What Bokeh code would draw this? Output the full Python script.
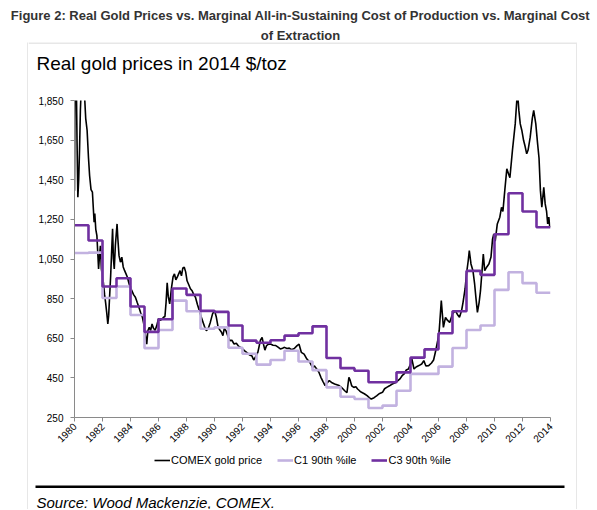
import math
from bokeh.plotting import figure
from bokeh.layouts import column, row
from bokeh.models import (Range1d, FixedTicker, NumeralTickFormatter, Label,
                          BoxAnnotation, Legend, LegendItem)
from bokeh.embed import file_html
from bokeh.resources import INLINE

TITLE_1 = "Figure 2: Real Gold Prices vs. Marginal All-in-Sustaining Cost of Production vs. Marginal Cost"
TITLE_2 = "of Extraction"
SUBTITLE = "Real gold prices in 2014 $/toz"
SOURCE = "Source: Wood Mackenzie, COMEX."
SERIES_NAMES = ["COMEX gold price", "C1 90th %ile", "C3 90th %ile"]

x_ticks = [1980, 1982, 1984, 1986, 1988, 1990, 1992, 1994, 1996, 1998, 2000,
           2002, 2004, 2006, 2008, 2010, 2012, 2014]
y_ticks = [250, 450, 650, 850, 1050, 1250, 1450, 1650, 1850]

# annual marginal costs (real 2014 $/toz)
cost_years = [1980, 1981, 1982, 1983, 1984, 1985, 1986, 1987, 1988, 1989,
              1990, 1991, 1992, 1993, 1994, 1995, 1996, 1997, 1998, 1999,
              2000, 2001, 2002, 2003, 2004, 2005, 2006, 2007, 2008, 2009,
              2010, 2011, 2012, 2013]
c1_values = [1080, 1082, 853, 911, 767, 600, 692, 840, 786, 698,
             705, 602, 572, 517, 540, 587, 533, 489, 402, 355,
             343, 298, 310, 385, 470, 470, 507, 601, 692, 714,
             894, 983, 928, 880]
c3_values = [1220, 1143, 911, 953, 810, 682, 746, 901, 869, 788,
             783, 714, 638, 627, 640, 663, 675, 710, 550, 499,
             486, 428, 428, 478, 552, 594, 675, 786, 990, 970,
             1175, 1382, 1290, 1210]
cost_end_year = 2014

# COMEX gold price, real 2014 $/toz
comex_t = [1980.00, 1980.05, 1980.12, 1980.18, 1980.24, 1980.30, 1980.36, 1980.42, 1980.50, 1980.60,
           1980.70, 1980.80, 1980.90, 1981.00, 1981.08, 1981.18, 1981.28, 1981.35, 1981.40, 1981.45,
           1981.52, 1981.60, 1981.66, 1981.72, 1981.78, 1981.85, 1981.92, 1982.00, 1982.06, 1982.15,
           1982.22, 1982.30, 1982.38, 1982.44, 1982.50, 1982.58, 1982.66, 1982.72, 1982.78, 1982.84,
           1982.92, 1983.04, 1983.10, 1983.18, 1983.28, 1983.38, 1983.48, 1983.58, 1983.68, 1983.78,
           1983.88, 1983.98, 1984.10, 1984.22, 1984.35, 1984.48, 1984.60, 1984.72, 1984.85, 1984.95,
           1985.08, 1985.16, 1985.24, 1985.34, 1985.44, 1985.54, 1985.64, 1985.76, 1985.88, 1986.00,
           1986.12, 1986.24, 1986.36, 1986.46, 1986.54, 1986.62, 1986.70, 1986.80, 1986.92, 1987.04,
           1987.14, 1987.24, 1987.34, 1987.44, 1987.54, 1987.64, 1987.74, 1987.84, 1987.94, 1988.04,
           1988.14, 1988.28, 1988.40, 1988.52, 1988.64, 1988.78, 1988.92, 1989.04, 1989.14, 1989.28,
           1989.42, 1989.56, 1989.70, 1989.86, 1990.00, 1990.12, 1990.26, 1990.40, 1990.50, 1990.60,
           1990.70, 1990.82, 1990.96, 1991.10, 1991.24, 1991.40, 1991.56, 1991.72, 1991.86, 1992.00,
           1992.18, 1992.36, 1992.52, 1992.68, 1992.80, 1992.92, 1993.10, 1993.28, 1993.40, 1993.50,
           1993.60, 1993.72, 1993.86, 1994.00, 1994.18, 1994.38, 1994.54, 1994.70, 1994.86, 1995.00,
           1995.18, 1995.34, 1995.50, 1995.70, 1995.90, 1996.04, 1996.20, 1996.40, 1996.60, 1996.80,
           1997.00, 1997.14, 1997.30, 1997.45, 1997.60, 1997.76, 1997.90, 1998.04, 1998.20, 1998.40,
           1998.58, 1998.74, 1998.90, 1999.10, 1999.30, 1999.46, 1999.60, 1999.68, 1999.80, 1999.95,
           2000.10, 2000.22, 2000.36, 2000.50, 2000.70, 2000.90, 2001.05, 2001.20, 2001.40, 2001.60,
           2001.76, 2002.00, 2002.15, 2002.30, 2002.50, 2002.70, 2002.90, 2003.10, 2003.25, 2003.40,
           2003.55, 2003.70, 2003.85, 2004.00, 2004.10, 2004.25, 2004.40, 2004.60, 2004.80, 2004.95,
           2005.10, 2005.30, 2005.50, 2005.65, 2005.80, 2005.95, 2006.05, 2006.20, 2006.35, 2006.50,
           2006.65, 2006.80, 2007.00, 2007.20, 2007.35, 2007.50, 2007.65, 2007.75, 2007.90, 2008.00,
           2008.12, 2008.20, 2008.32, 2008.46, 2008.58, 2008.68, 2008.78, 2008.90, 2009.00, 2009.12,
           2009.20, 2009.30, 2009.45, 2009.60, 2009.75, 2009.86, 2009.95, 2010.05, 2010.20, 2010.38,
           2010.50, 2010.60, 2010.74, 2010.88, 2011.00, 2011.10, 2011.28, 2011.48, 2011.64, 2011.74,
           2011.84, 2011.95, 2012.08, 2012.18, 2012.30, 2012.40, 2012.55, 2012.70, 2012.80, 2012.95,
           2013.08, 2013.18, 2013.28, 2013.38, 2013.52, 2013.62, 2013.72, 2013.80, 2013.88, 2013.95]
comex_v = [1395, 2150, 2000, 1650, 1362, 1450, 1600, 1800, 1950, 2050,
           1900, 1760, 1700, 1560, 1470, 1400, 1387, 1300, 1236, 1280,
           1200, 1168, 1084, 1000, 1060, 1117, 1000, 960, 932, 870,
           831, 780, 722, 764, 850, 960, 1100, 1203, 1050, 1000,
           1120, 1227, 1150, 1067, 1034, 1059, 1010, 991, 975, 958,
           930, 905, 890, 870, 857, 830, 806, 780, 756, 722,
           660, 620, 688, 705, 690, 722, 700, 690, 715, 750,
           740, 745, 756, 760, 830, 930, 860, 823, 900, 960,
           975, 945, 958, 975, 991, 965, 1005, 1008, 985, 940,
           924, 900, 890, 870, 857, 820, 789, 760, 739, 710,
           688, 700, 730, 773, 790, 760, 705, 690, 680, 663,
           700, 688, 660, 638, 640, 621, 625, 610, 604, 596,
           585, 575, 565, 560, 540, 554, 580, 640, 654, 620,
           590, 613, 620, 621, 615, 613, 605, 596, 600, 604,
           598, 600, 592, 598, 613, 620, 579, 570, 545, 530,
           503, 510, 495, 480, 453, 430, 411, 425, 436, 425,
           419, 415, 411, 400, 385, 375, 453, 440, 410, 402,
           405, 394, 385, 377, 370, 360, 350, 343, 350, 360,
           370, 377, 395, 402, 410, 419, 425, 436, 445, 461,
           470, 490, 495, 520, 545, 495, 505, 512, 520, 537,
           510, 512, 525, 540, 587, 640, 688, 840, 705, 755,
           740, 730, 773, 790, 770, 756, 790, 830, 900, 975,
           1040, 1092, 1025, 991, 924, 850, 781, 830, 890, 1000,
           1075, 991, 1010, 1025, 1060, 1150, 1177, 1140, 1227, 1261,
           1311, 1290, 1400, 1505, 1480, 1460, 1597, 1732, 1900, 1800,
           1732, 1700, 1648, 1620, 1581, 1600, 1665, 1760, 1800, 1732,
           1631, 1560, 1395, 1311, 1412, 1328, 1290, 1227, 1261, 1210]

BLACK = "#000000"
C1_COLOR = "#c2b2e0"
C3_COLOR = "#7030a0"
FONT = "Liberation Sans"
BOX_GREY = "#d0d0d0"
STYLES = [dict(line_color=BLACK, line_width=1.6),
          dict(line_color=C1_COLOR, line_width=2.6),
          dict(line_color=C3_COLOR, line_width=2.6)]


def blank(width, height, fill="white"):
    f = figure(width=width, height=height, output_backend="svg", toolbar_location=None,
               x_axis_location=None, y_axis_location=None,
               x_range=Range1d(0, width), y_range=Range1d(0, height),
               min_border=0, frame_align=False)
    f.title = None
    f.outline_line_color = None
    f.xgrid.visible = False
    f.ygrid.visible = False
    f.background_fill_color = fill
    f.border_fill_color = fill
    return f


def screen_box(fig, left, right, top, bottom, color):
    fig.add_layout(BoxAnnotation(left=left, right=right, top=top, bottom=bottom,
                                 left_units="screen", right_units="screen",
                                 top_units="screen", bottom_units="screen",
                                 fill_color=color, fill_alpha=1, line_color=None))


# --- figure heading (outside the box) ---
head = blank(597, 42)
head.add_layout(Label(x=300, y=27.5, x_units="screen", y_units="screen", text=TITLE_1,
                      text_align="center", text_baseline="alphabetic",
                      text_font=FONT, text_font_style="bold",
                      text_font_size="13px", text_color="#333333"))
head.add_layout(Label(x=300, y=7.5, x_units="screen", y_units="screen", text=TITLE_2,
                      text_align="center", text_baseline="alphabetic",
                      text_font=FONT, text_font_style="bold",
                      text_font_size="13px", text_color="#333333"))

# --- chart subtitle (with the top edge of the box) ---
sub = blank(548, 33)
screen_box(sub, 0, 548, 33, 32, BOX_GREY)
sub.add_layout(Label(x=8, y=12, x_units="screen", y_units="screen", text=SUBTITLE,
                     text_align="left", text_baseline="alphabetic",
                     text_font=FONT, text_font_size="19px", text_color="#000000"))

# --- main chart ---
p = figure(width=548, height=375, output_backend="svg", toolbar_location=None,
           x_range=Range1d(1980, 2014), y_range=Range1d(250, 1850),
           min_border_left=46, min_border_right=26, min_border_top=25,
           min_border_bottom=33, frame_align=False)
p.title = None
p.outline_line_color = None
p.xgrid.visible = False
p.ygrid.visible = False

p.line(comex_t, comex_v, **STYLES[0])
p.step(cost_years + [cost_end_year], c1_values + [c1_values[-1]], mode="after", **STYLES[1])
p.step(cost_years + [cost_end_year], c3_values + [c3_values[-1]], mode="after", **STYLES[2])

for ax in (p.xaxis[0], p.yaxis[0]):
    ax.axis_line_color = "#8a8a8a"
    ax.major_tick_line_color = "#8a8a8a"
    ax.major_tick_out = 4
    ax.major_tick_in = 0
    ax.minor_tick_line_color = None
    ax.major_label_text_font = FONT
    ax.major_label_text_font_size = "10px"
    ax.major_label_text_color = "#000000"

p.xaxis[0].ticker = FixedTicker(ticks=x_ticks)
p.xaxis[0].major_label_orientation = math.pi / 4
p.xaxis[0].major_label_standoff = 3
p.yaxis[0].ticker = FixedTicker(ticks=y_ticks)
p.yaxis[0].formatter = NumeralTickFormatter(format="0,0")
p.yaxis[0].major_label_standoff = 7

# --- footer: legend + rule + source ---
foot = blank(548, 59)
nan = float("nan")
legend_renderers = [foot.line([nan], [nan], **st) for st in STYLES]
legend = Legend(items=[LegendItem(label=name, renderers=[r])
                       for name, r in zip(SERIES_NAMES, legend_renderers)],
                orientation="horizontal", location=(126, 43),
                glyph_width=16, glyph_height=12, label_standoff=1, spacing=15,
                padding=0, margin=0, border_line_color=None,
                background_fill_alpha=0, label_text_font=FONT,
                label_text_font_size="11px", label_height=12,
                label_text_color="#000000")
foot.add_layout(legend)
screen_box(foot, 7, 536, 24, 21.5, "black")
foot.add_layout(Label(x=8, y=7.5, x_units="screen", y_units="screen", text=SOURCE,
                      text_align="left", text_baseline="alphabetic",
                      text_font=FONT, text_font_style="italic",
                      text_font_size="15px", text_color="#000000"))

inner = column(sub, p, foot)
left_edge = blank(1, 467, BOX_GREY)
right_edge = blank(1, 467, BOX_GREY)
box = row(left_edge, inner, right_edge, margin=(0, 0, 0, 27))
page = column(head, box)

open("out.html", "w").write(file_html(page, INLINE))
